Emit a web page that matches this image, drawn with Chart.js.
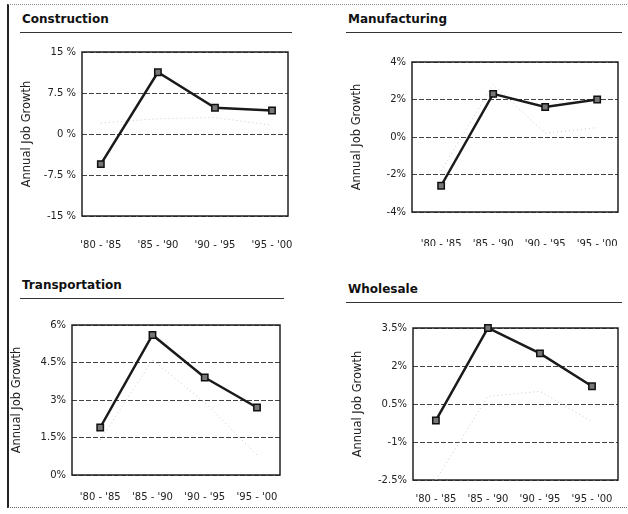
<!DOCTYPE html>
<html>
<head>
<meta charset="utf-8">
<script src="https://cdn.jsdelivr.net/npm/chart.js@4"></script>
<style>
  body { margin: 0; background: #fff; width: 628px; height: 514px; overflow: hidden; position: relative; font-family: "DejaVu Sans", sans-serif; }
  .frame { position: absolute; left: 7px; top: 4px; width: 640px; height: 502px; border-left: 2px solid #222; border-top: 1px dotted #888; border-bottom: 1px dotted #666; }
  .ttl { position: absolute; font: bold 12px "DejaVu Sans", sans-serif; color: #111; line-height: 14px; padding: 0 0 6px 2px; border-bottom: 1px solid #333; }
  canvas { position: absolute; }
</style>
</head>
<body>
<div class="frame"></div>

<script>
// ===== DATA =====
const periods = ["'80 - '85", "'85 - '90", "'90 - '95", "'95 - '00"];

const constructionGrowth = [-5.5, 11.3, 4.8, 4.3];
const constructionFaint = [2.0, 2.8, 3.0, 1.6];
const constructionTicks = [-15, -7.5, 0, 7.5, 15];
const constructionTickLabels = ['-15 %', '-7.5 %', '0 %', '7.5 %', '15 %'];

const manufacturingGrowth = [-2.6, 2.3, 1.6, 2.0];
const manufacturingFaint = [-1.8, 2.8, 0.2, 0.5];
const manufacturingTicks = [-4, -2, 0, 2, 4];
const manufacturingTickLabels = ['-4%', '-2%', '0%', '2%', '4%'];

const transportationGrowth = [1.9, 5.6, 3.9, 2.7];
const transportationFaint = [1.4, 4.6, 2.9, 0.8];
const transportationTicks = [0, 1.5, 3, 4.5, 6];
const transportationTickLabels = ['0%', '1.5%', '3%', '4.5%', '6%'];

const wholesaleGrowth = [-0.15, 3.5, 2.5, 1.2];
const wholesaleFaint = [-2.5, 0.8, 1.0, -0.2];
const wholesaleTicks = [-2.5, -1, 0.5, 2, 3.5];
const wholesaleTickLabels = ['-2.5%', '-1%', '0.5%', '2%', '3.5%'];

const yTitle = 'Annual Job Growth';

// ===== LAYOUT =====
const YW = 62, PT = 8, PR = 6, XH = 34;
const font = { family: 'DejaVu Sans', size: 10 };

// area = plot box in page px, xRange = margin around the 4 periods
const panels = [
  { title: 'Construction', area: [82, 52, 288, 216], head: [20, 12, 270], labelPad: 15, xRange: [-0.33, 3.28],
    values: constructionGrowth, faint: constructionFaint, ticks: constructionTicks, labels: constructionTickLabels },
  { title: 'Manufacturing', area: [412, 62, 618, 212], head: [346, 12, 274], labelPad: 18, xRange: [-0.56, 3.4],
    values: manufacturingGrowth, faint: manufacturingFaint, ticks: manufacturingTicks, labels: manufacturingTickLabels },
  { title: 'Transportation', area: [72, 325, 280, 475], head: [20, 278, 262], labelPad: 8, xRange: [-0.54, 3.44],
    values: transportationGrowth, faint: transportationFaint, ticks: transportationTicks, labels: transportationTickLabels },
  { title: 'Wholesale', area: [413, 328, 618, 480], head: [346, 282, 274], labelPad: 5, xRange: [-0.44, 3.5],
    values: wholesaleGrowth, faint: wholesaleFaint, ticks: wholesaleTicks, labels: wholesaleTickLabels }
];

// Draw a solid box around the plot area
const frameBox = {
  id: 'frameBox',
  beforeDatasetsDraw(chart) {
    const { ctx, chartArea: a } = chart;
    ctx.save();
    ctx.strokeStyle = '#222';
    ctx.lineWidth = 1.5;
    ctx.strokeRect(a.left, a.top, a.right - a.left, a.bottom - a.top);
    ctx.restore();
  }
};

panels.forEach(makePanel);

function toPoints(values) {
  return values.map((v, i) => ({ x: i, y: v }));
}

function makePanel(p) {
  const [l, t, r, b] = p.area;

  const head = document.createElement('div');
  head.className = 'ttl';
  head.textContent = p.title;
  head.style.left = p.head[0] + 'px';
  head.style.top = p.head[1] + 'px';
  head.style.width = p.head[2] + 'px';
  document.body.appendChild(head);

  const canvas = document.createElement('canvas');
  canvas.width = YW + (r - l) + PR;
  canvas.height = PT + (b - t) + XH;
  canvas.style.left = (l - YW) + 'px';
  canvas.style.top = (t - PT) + 'px';
  document.body.appendChild(canvas);

  const min = p.ticks[0];
  const max = p.ticks[p.ticks.length - 1];

  new Chart(canvas.getContext('2d'), {
    type: 'line',
    data: {
      datasets: [
        {
          data: toPoints(p.values),
          borderColor: '#1a1a1a',
          borderWidth: 2.5,
          pointStyle: 'rect',
          pointRadius: 4.5,
          pointBackgroundColor: '#777',
          pointBorderColor: '#111',
          pointBorderWidth: 1.5,
          tension: 0,
          clip: false
        },
        {
          data: toPoints(p.faint),
          borderColor: '#c8c8c8',
          borderWidth: 1,
          borderDash: [1, 3],
          pointRadius: 0,
          tension: 0
        }
      ]
    },
    options: {
      responsive: false,
      animation: false,
      layout: { padding: { top: PT, right: PR, left: 0, bottom: 0 } },
      plugins: { legend: { display: false }, tooltip: { enabled: false } },
      scales: {
        x: {
          type: 'linear',
          min: p.xRange[0],
          max: p.xRange[1],
          afterBuildTicks(scale) { scale.ticks = periods.map((_, i) => ({ value: i })); },
          grid: { display: false },
          border: { display: false },
          ticks: { color: '#222', font, padding: p.labelPad, maxRotation: 0, autoSkip: false,
                   callback: v => periods[v] },
          afterFit(scale) {
            scale.height = XH;
            scale.paddingLeft = 0;
            scale.paddingRight = 0;
          }
        },
        y: {
          min, max,
          afterBuildTicks(scale) { scale.ticks = p.ticks.map(v => ({ value: v })); },
          ticks: { color: '#222', font, padding: 6, callback: (v, i) => p.labels[i] },
          grid: { color: '#444', lineWidth: 1, drawTicks: false },
          border: { display: false, dash: [5, 2] },
          title: { display: true, text: yTitle, color: '#222', font: { family: 'DejaVu Sans', size: 11.5 }, padding: 0 },
          afterFit(scale) {
            scale.width = YW;
            scale.paddingTop = 0;
            scale.paddingBottom = 0;
          }
        }
      }
    },
    plugins: [frameBox]
  });
}
</script>
</body>
</html>
